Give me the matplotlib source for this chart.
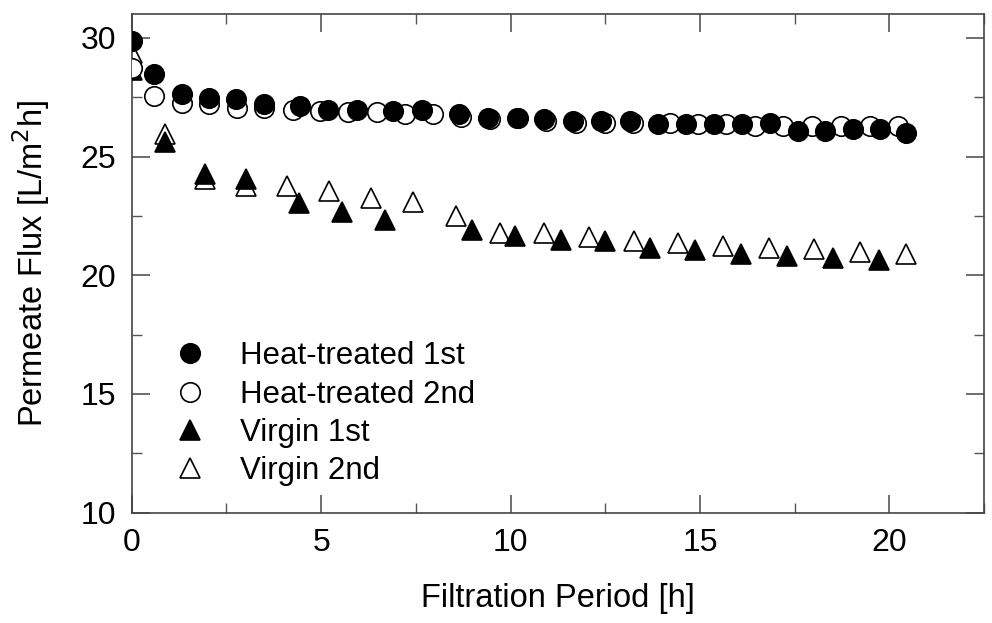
import numpy as np
import matplotlib.pyplot as plt
from matplotlib.ticker import MultipleLocator

plt.rcParams['font.family'] = ['Liberation Sans', 'DejaVu Sans']

# Heat-treated 1st (filled circles)
ht1_x = [0.0, 0.6, 1.33, 2.03, 2.75, 3.5, 4.44, 5.19, 5.94, 6.9, 7.65, 8.64, 9.41, 10.16,
         10.88, 11.65, 12.4, 13.15, 13.9, 14.62, 15.36, 16.11, 16.86, 17.59, 18.31, 19.04,
         19.76, 20.45]
ht1_y = [29.86, 28.46, 27.62, 27.48, 27.41, 27.2, 27.13, 26.96, 26.96, 26.92, 26.95, 26.78,
         26.64, 26.64, 26.57, 26.5, 26.5, 26.5, 26.36, 26.36, 26.36, 26.36, 26.39, 26.08,
         26.08, 26.15, 26.15, 26.01]

# Heat-treated 2nd (open circles)
ht2_x = [0.0, 0.6, 1.33, 2.03, 2.77, 3.5, 4.26, 4.97, 5.72, 6.48, 7.21, 7.96, 8.7, 9.45,
         10.2, 10.93, 11.74, 12.49, 13.24, 14.2, 14.95, 15.7, 16.45, 17.19, 17.97, 18.72,
         19.48, 20.23]
ht2_y = [28.74, 27.55, 27.27, 27.2, 27.06, 27.06, 26.96, 26.92, 26.89, 26.89, 26.78, 26.78,
         26.67, 26.57, 26.61, 26.5, 26.43, 26.43, 26.43, 26.39, 26.36, 26.36, 26.29, 26.29,
         26.29, 26.29, 26.29, 26.29]

# Virgin 1st (filled triangles)
v1_x = [0.0, 0.88, 1.93, 3.02, 4.41, 5.54, 6.68, 8.97, 10.13, 11.32, 12.5, 13.69, 14.88,
        16.09, 17.3, 18.51, 19.73]
v1_y = [28.65, 25.59, 24.26, 24.05, 23.03, 22.65, 22.31, 21.89, 21.64, 21.5, 21.43, 21.16,
        21.08, 20.9, 20.83, 20.73, 20.66]

# Virgin 2nd (open triangles)
v2_x = [0.0, 0.88, 1.93, 3.02, 4.09, 5.2, 6.31, 7.43, 8.56, 9.72, 10.89, 12.07, 13.25,
        14.42, 15.61, 16.82, 18.01, 19.22, 20.43]
v2_y = [29.35, 25.94, 24.05, 23.74, 23.74, 23.56, 23.25, 23.07, 22.5, 21.76, 21.79, 21.6,
        21.43, 21.34, 21.25, 21.15, 21.11, 20.98, 20.9]

fig = plt.figure(figsize=(9.92, 6.23), dpi=100)
ax = fig.add_axes([0.1328, 0.177, 0.8592, 0.8005])

ms = 14
ax.plot(v2_x, v2_y, '^', ms=ms, mfc='white', mec='black', mew=1.2, label='Virgin 2nd', zorder=2)
ax.plot(v1_x, v1_y, '^', ms=ms, mfc='black', mec='black', mew=1.2, label='Virgin 1st', zorder=3)
ax.plot(ht2_x, ht2_y, 'o', ms=ms, mfc='white', mec='black', mew=1.2, label='Heat-treated 2nd', zorder=4)
ax.plot(ht1_x, ht1_y, 'o', ms=ms, mfc='black', mec='black', mew=1.2, label='Heat-treated 1st', zorder=5)

ax.set_xlim(0, 22.5)
ax.set_ylim(10, 31)
ax.xaxis.set_major_locator(MultipleLocator(5))
ax.xaxis.set_minor_locator(MultipleLocator(2.5))
ax.yaxis.set_major_locator(MultipleLocator(5))
ax.yaxis.set_minor_locator(MultipleLocator(2.5))
ax.tick_params(which='both', direction='in', top=True, right=True, labelsize=23, color='#555555')
ax.tick_params(which='major', length=13, width=1.2, pad=11)
ax.tick_params(which='minor', length=7, width=1.0)
for s in ax.spines.values():
    s.set_linewidth(1.2)
    s.set_color('#444444')

ax.set_xlabel('Filtration Period [h]', fontsize=23.5, labelpad=18)
ax.set_ylabel('Permeate Flux [L/m$^2$h]', fontsize=23.5, labelpad=21)

handles, labels = ax.get_legend_handles_labels()
ax.legend(handles[::-1], labels[::-1], loc='lower left', bbox_to_anchor=(0.041, 0.054),
          frameon=False, fontsize=22.5, handletextpad=0.84, labelspacing=0.26,
          handlelength=1.5, borderaxespad=0, borderpad=0)

fig.savefig('out.png')
